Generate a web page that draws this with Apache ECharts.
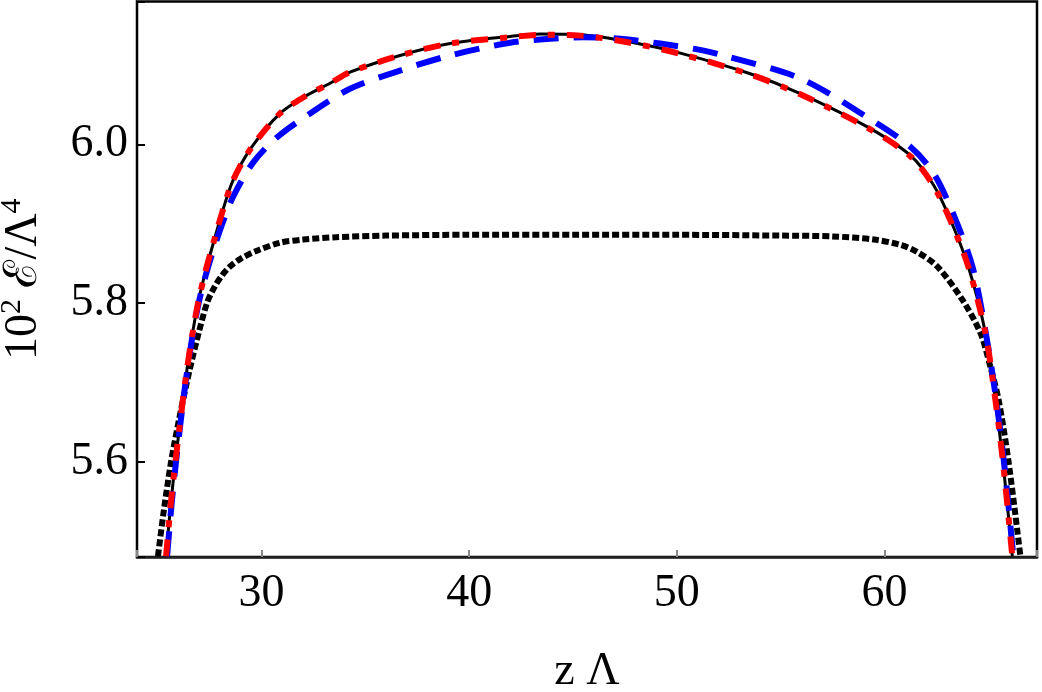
<!DOCTYPE html>
<html>
<head>
<meta charset="utf-8">
<script src="https://cdn.jsdelivr.net/npm/echarts@6/dist/echarts.min.js"></script>
<style>
  html, body { margin: 0; padding: 0; background: #fff; }
  #chart { width: 1042px; height: 692px; }
</style>
</head>
<body>
<div id="chart"></div>
<script>
// values
var solidZ = [25.40, 25.62, 25.85, 26.08, 26.32, 26.60, 26.94, 27.30, 27.65, 28.10, 28.63, 29.54, 30.89, 32.00, 33.30, 34.26, 36.67, 39.08, 41.97, 43.42, 45.35, 47.76, 50.17, 53.54, 55.95, 59.18, 61.25, 62.36, 63.18, 64.04, 64.86, 65.34, 65.73, 66.16];
var solidE = [5.481, 5.545, 5.600, 5.650, 5.700, 5.750, 5.800, 5.840, 5.873, 5.914, 5.955, 5.997, 6.039, 6.059, 6.077, 6.091, 6.112, 6.127, 6.136, 6.139, 6.138, 6.129, 6.115, 6.089, 6.064, 6.022, 5.986, 5.949, 5.905, 5.846, 5.763, 5.679, 5.595, 5.481];

var dashDotZ = [25.40, 25.62, 25.85, 26.08, 26.32, 26.60, 26.94, 27.30, 27.65, 28.10, 28.63, 29.54, 30.89, 32.00, 33.30, 34.26, 36.67, 39.08, 41.97, 43.42, 45.35, 47.76, 50.17, 53.54, 55.95, 59.18, 61.25, 62.36, 63.18, 64.04, 64.86, 65.34, 65.73, 66.16];
var dashDotE = [5.481, 5.545, 5.600, 5.650, 5.700, 5.750, 5.800, 5.840, 5.873, 5.914, 5.955, 5.997, 6.039, 6.059, 6.077, 6.091, 6.112, 6.127, 6.135, 6.138, 6.137, 6.128, 6.114, 6.088, 6.063, 6.021, 5.985, 5.948, 5.904, 5.846, 5.763, 5.679, 5.595, 5.481];

var dashedZ = [25.45, 25.66, 25.88, 26.10, 26.34, 26.62, 26.97, 27.42, 28.00, 28.63, 29.59, 30.75, 32.34, 34.26, 36.67, 39.08, 41.97, 43.90, 45.50, 47.28, 49.20, 51.13, 52.24, 55.95, 59.18, 61.25, 62.36, 63.32, 64.24, 64.88, 65.38, 65.78, 66.21];
var dashedE = [5.481, 5.545, 5.600, 5.650, 5.700, 5.750, 5.800, 5.845, 5.892, 5.934, 5.977, 6.009, 6.039, 6.070, 6.093, 6.112, 6.128, 6.133, 6.135, 6.133, 6.127, 6.119, 6.112, 6.083, 6.034, 5.997, 5.964, 5.912, 5.846, 5.763, 5.679, 5.595, 5.481];

var dottedZ = [25.01, 25.30, 25.64, 26.00, 26.40, 26.85, 27.37, 27.75, 28.10, 28.48, 29.00, 29.78, 30.89, 32.00, 33.60, 36.00, 40.00, 45.00, 50.00, 55.00, 57.50, 59.50, 60.80, 61.60, 62.55, 63.76, 64.63, 65.10, 65.50, 65.98, 66.55];
var dottedE = [5.481, 5.540, 5.600, 5.650, 5.700, 5.750, 5.800, 5.821, 5.835, 5.846, 5.856, 5.866, 5.876, 5.880, 5.883, 5.885, 5.886, 5.886, 5.886, 5.885, 5.884, 5.880, 5.873, 5.864, 5.846, 5.804, 5.762, 5.720, 5.678, 5.600, 5.481];

var xTicks = [30, 40, 50, 60];
var yTicks = [5.6, 5.8, 6.0];

function pairs(xs, ys) {
    return xs.map(function(x, i) { return [x, ys[i]]; });
}

function isTick(list, v) {
    return list.some(function(t) { return Math.abs(t - v) < 1e-6; });
}

var serif = '"Liberation Serif", serif';

var chart = echarts.init(document.getElementById('chart'));

var option = {
    backgroundColor: '#fff',
    animation: false,
    grid: {
        left: 137,
        right: 5,
        top: 1.5,
        bottom: 135,
        show: true,
        borderColor: '#000',
        borderWidth: 2.5,
        containLabel: false,
        outerBoundsMode: 'none'
    },
    xAxis: {
        type: 'value',
        min: 24,
        max: 67.35,
        splitNumber: 4,
        name: 'z Λ',
        nameLocation: 'middle',
        nameGap: 92,
        nameTextStyle: { fontFamily: serif, fontSize: 46, color: '#000' },
        axisLine: { lineStyle: { color: '#222', width: 2.5 } },
        axisTick: { inside: true, length: 7, lineStyle: { color: '#888', width: 2 } },
        axisLabel: {
            margin: 14,
            fontFamily: serif,
            fontSize: 46,
            color: '#000',
            formatter: function(v) { return isTick(xTicks, v) ? String(v) : ''; }
        },
        splitLine: { show: false }
    },
    yAxis: {
        type: 'value',
        min: 5.48,
        max: 6.18,
        splitNumber: 4,
        name: '{a|10}{s|2}{a| ℰ/Λ}{s|4}',
        nameLocation: 'middle',
        nameGap: 90,
        nameTextStyle: {
            color: '#000',
            rich: {
                a: { fontFamily: serif, fontSize: 46, color: '#000', lineHeight: 50, verticalAlign: 'bottom' },
                s: { fontFamily: serif, fontSize: 30, color: '#000', lineHeight: 50, verticalAlign: 'top' }
            }
        },
        axisLine: { lineStyle: { color: '#000', width: 2 } },
        axisTick: { inside: true, length: 8, lineStyle: { color: '#000', width: 2 } },
        axisLabel: {
            margin: 9,
            fontFamily: serif,
            fontSize: 46,
            color: '#000',
            formatter: function(v) { return isTick(yTicks, v) ? v.toFixed(1) : ''; }
        },
        splitLine: { show: false }
    },
    series: [
        {
            name: 'dotted',
            type: 'line',
            showSymbol: false,
            smooth: 0.3,
            data: pairs(dottedZ, dottedE),
            lineStyle: { color: '#000', width: 6, type: [7, 3] }
        },
        {
            name: 'solid',
            type: 'line',
            showSymbol: false,
            smooth: 0.3,
            data: pairs(solidZ, solidE),
            lineStyle: { color: '#000', width: 3 }
        },
        {
            name: 'dashed',
            type: 'line',
            showSymbol: false,
            smooth: 0.3,
            data: pairs(dashedZ, dashedE),
            lineStyle: { color: '#0000ff', width: 6, type: [25, 15] }
        },
        {
            name: 'dashdot',
            type: 'line',
            showSymbol: false,
            smooth: 0.3,
            data: pairs(dashDotZ, dashDotE),
            lineStyle: { color: '#ff0000', width: 6, type: [17, 12, 7, 12] }
        }
    ]
};

chart.setOption(option);
</script>
</body>
</html>
